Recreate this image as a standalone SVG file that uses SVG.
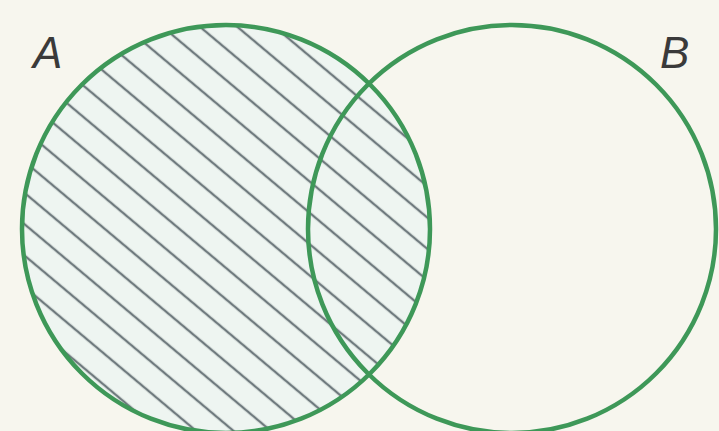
<svg xmlns="http://www.w3.org/2000/svg" width="719" height="431" viewBox="0 0 719 431">
  <style>
    .ring { fill: none; stroke: #3e9858; stroke-width: 4.5; }
    .lbl { font-family: "Liberation Sans", Arial, sans-serif; font-style: italic; font-size: 44px; fill: #3a3a3a; }
  </style>
  <defs>
    <pattern id="hatch" patternUnits="userSpaceOnUse" width="24" height="24" patternTransform="rotate(40)">
      <rect width="24" height="24" fill="#eef5f1"/>
      <line x1="0" y1="12" x2="24" y2="12" stroke="#6f7a7e" stroke-width="2.4"/>
    </pattern>
  </defs>
  <rect width="719" height="431" fill="#f7f6ee"/>
  <g id="setA">
    <circle cx="226" cy="229" r="204" fill="url(#hatch)"/>
    <circle class="ring" cx="226" cy="229" r="204"/>
    <text class="lbl" x="33" y="68">A</text>
  </g>
  <g id="setB">
    <circle class="ring" cx="512" cy="229" r="204"/>
    <text class="lbl" x="660" y="68">B</text>
  </g>
  <g id="connectors"></g>
</svg>
